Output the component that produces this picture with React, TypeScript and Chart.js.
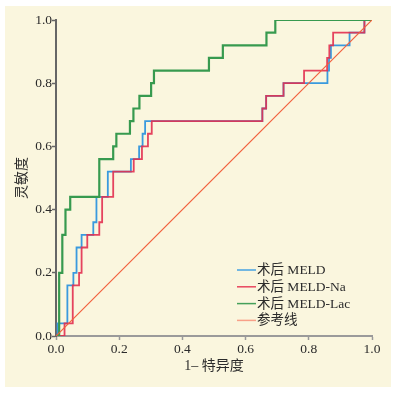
import { useEffect, useRef } from "react";
import { Chart, registerables } from "chart.js";

Chart.register(...registerables);

const seriesLabels = ["术后 MELD", "术后 MELD-Na", "术后 MELD-Lac", "参考线"];
const seriesColors = ["#3a9ade", "rgba(226,48,80,0.9)", "#379a4f", "#f2603c"];
const legendColors = ["#45a2e2", "#e8465e", "#45a05a", "#f8a088"];

// ROC vertices (1 - specificity, sensitivity)
const meldFpr = [0, 0.005, 0.036, 0.055, 0.065, 0.081, 0.118, 0.128, 0.164, 0.237, 0.263, 0.274, 0.282, 0.653, 0.665, 0.72, 0.859, 0.864, 0.87, 0.929, 0.976, 1];
const meldTpr = [0, 0.04, 0.16, 0.2, 0.28, 0.32, 0.36, 0.44, 0.52, 0.56, 0.6, 0.64, 0.68, 0.72, 0.76, 0.8, 0.84, 0.88, 0.92, 0.96, 1.0, 1.0];

const naFpr = [0, 0.027, 0.053, 0.073, 0.081, 0.099, 0.137, 0.146, 0.181, 0.246, 0.272, 0.291, 0.303, 0.653, 0.665, 0.72, 0.785, 0.858, 0.865, 0.877, 0.976, 1];
const naTpr = [0, 0.04, 0.16, 0.2, 0.28, 0.32, 0.36, 0.44, 0.52, 0.56, 0.6, 0.64, 0.68, 0.72, 0.76, 0.8, 0.84, 0.88, 0.92, 0.96, 1.0, 1.0];

const lacFpr = [0, 0.01, 0.02, 0.03, 0.045, 0.137, 0.181, 0.191, 0.234, 0.245, 0.264, 0.301, 0.31, 0.484, 0.528, 0.666, 0.694, 1];
const lacTpr = [0, 0.2, 0.32, 0.4, 0.44, 0.56, 0.6, 0.64, 0.68, 0.72, 0.76, 0.8, 0.84, 0.88, 0.92, 0.96, 1.0, 1.0];

const refFpr = [0, 1];
const refTpr = [0, 1];

const tickValues = [0, 0.2, 0.4, 0.6, 0.8, 1.0];
const xTitle = "1– 特异度";
const yTitle = "灵敏度";

const serif = '"Liberation Serif", "Noto Sans CJK SC", serif';

const toPoints = (xs: number[], ys: number[]) => xs.map((x, i) => ({ x, y: ys[i] }));

const backgroundPlugin = {
  id: "bg",
  beforeDraw(chart: any) {
    const { ctx, width, height } = chart;
    ctx.save();
    ctx.fillStyle = "#ffffff";
    ctx.fillRect(0, 0, width, height);
    ctx.fillStyle = "#faf6de";
    ctx.fillRect(5, 6, 386, 381);
    ctx.restore();
  },
};

const legendPlugin = {
  id: "insideLegend",
  afterDraw(chart: any) {
    const { ctx } = chart;
    const x0 = 237;
    const y0 = 270;
    const gap = 16.8;
    ctx.save();
    ctx.font = `13.5px ${serif}`;
    ctx.textBaseline = "middle";
    ctx.textAlign = "left";
    seriesLabels.forEach((label, i) => {
      const y = y0 + i * gap;
      ctx.strokeStyle = legendColors[i];
      ctx.lineWidth = 1.5;
      ctx.beginPath();
      ctx.moveTo(x0, y);
      ctx.lineTo(x0 + 19, y);
      ctx.stroke();
      ctx.fillStyle = "#2b2b2b";
      ctx.fillText(label, x0 + 20, y + 0.5);
    });
    ctx.restore();
  },
};

export default function App() {
  const ref = useRef<HTMLCanvasElement | null>(null);

  useEffect(() => {
    document.body.style.margin = "0";
    const canvas = ref.current;
    if (!canvas) return;
    const tickFont = { family: serif, size: 13.5 };
    const chart = new Chart(canvas, {
      type: "line",
      data: {
        datasets: [
          {
            label: seriesLabels[0],
            data: toPoints(meldFpr, meldTpr),
            borderColor: seriesColors[0],
            backgroundColor: seriesColors[0],
            borderWidth: 1.8,
            stepped: true,
            pointRadius: 0,
            order: 3,
          },
          {
            label: seriesLabels[1],
            data: toPoints(naFpr, naTpr),
            borderColor: seriesColors[1],
            backgroundColor: seriesColors[1],
            borderWidth: 1.8,
            stepped: true,
            pointRadius: 0,
            order: 2,
          },
          {
            label: seriesLabels[2],
            data: toPoints(lacFpr, lacTpr),
            borderColor: seriesColors[2],
            backgroundColor: seriesColors[2],
            borderWidth: 2.2,
            stepped: true,
            pointRadius: 0,
            order: 1,
          },
          {
            label: seriesLabels[3],
            data: toPoints(refFpr, refTpr),
            borderColor: seriesColors[3],
            backgroundColor: seriesColors[3],
            borderWidth: 1.2,
            pointRadius: 0,
            order: 0,
          },
        ],
      },
      options: {
        responsive: false,
        animation: false,
        devicePixelRatio: 1,
        layout: { padding: { left: 5, right: 26, top: 20, bottom: 6 } },
        plugins: {
          legend: { display: false },
          tooltip: { enabled: false },
        },
        scales: {
          x: {
            type: "linear",
            min: 0,
            max: 1,
            afterFit: (s: any) => {
              s.height = 51;
            },
            afterBuildTicks: (s: any) => {
              s.ticks = tickValues.map((v) => ({ value: v }));
            },
            ticks: {
              font: tickFont,
              color: "#2b2b2b",
              padding: 1,
              maxRotation: 0,
              callback: (v: any) => Number(v).toFixed(1),
            },
            grid: {
              drawOnChartArea: false,
              drawTicks: true,
              tickLength: 4,
              tickColor: "#999",
              tickWidth: 1.5,
            },
            border: { display: true, color: "#9a9a9a", width: 2 },
            title: {
              display: true,
              text: xTitle,
              font: { family: serif, size: 14 },
              color: "#2b2b2b",
              padding: { top: 0, bottom: 12 },
            },
          },
          y: {
            type: "linear",
            min: 0,
            max: 1,
            afterFit: (s: any) => {
              s.width = 51;
            },
            afterBuildTicks: (s: any) => {
              s.ticks = tickValues.map((v) => ({ value: v }));
            },
            ticks: {
              font: tickFont,
              color: "#2b2b2b",
              padding: 0,
              callback: (v: any) => Number(v).toFixed(1),
            },
            grid: {
              drawOnChartArea: false,
              drawTicks: true,
              tickLength: 4,
              tickColor: "#666",
              tickWidth: 1.5,
            },
            border: { display: true, color: "#666", width: 2 },
            title: {
              display: true,
              text: yTitle,
              font: { family: serif, size: 14 },
              color: "#2b2b2b",
              padding: { top: 9, bottom: 0 },
            },
          },
        },
      },
      plugins: [backgroundPlugin, legendPlugin],
    });
    return () => chart.destroy();
  }, []);

  return <canvas ref={ref} width={398} height={393} style={{ display: "block", width: 398, height: 393 }} />;
}
